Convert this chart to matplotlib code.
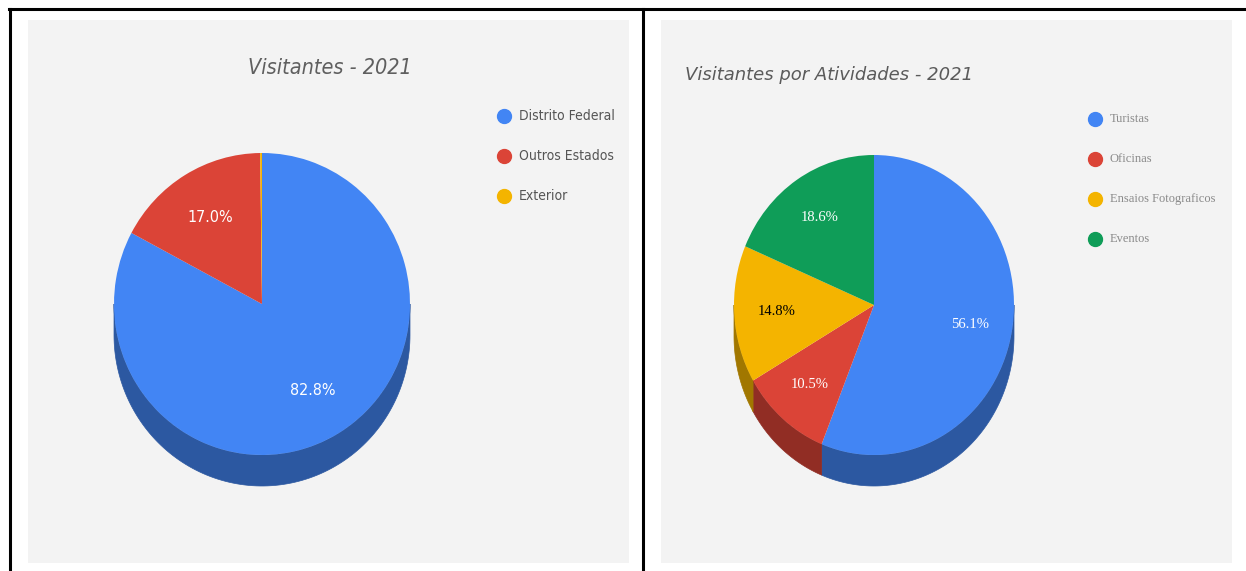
import numpy as np
import matplotlib
matplotlib.use("Agg")
import matplotlib.pyplot as plt
from matplotlib.colors import to_rgb
from matplotlib.patches import Polygon

# data
origem_labels = ["Distrito Federal", "Outros Estados", "Exterior"]
origem_values = [82.8, 17.0, 0.2]
origem_colors = ["#4285f4", "#db4437", "#f4b400"]

atividade_labels = ["Turistas", "Oficinas", "Ensaios Fotograficos", "Eventos"]
atividade_values = [56.1, 10.5, 14.8, 18.6]
atividade_colors = ["#4285f4", "#db4437", "#f4b400", "#0f9d58"]
atividade_text_colors = ["white", "white", "black", "white"]

W, H = 1246, 571
fig = plt.figure(figsize=(W / 100, H / 100), dpi=100)
fig.patch.set_facecolor("white")

NARROW = dict(fontfamily="DejaVu Sans", fontstretch="condensed")


def px_axes(x0, y0, x1, y1):
    # axes from pixel box (top-left origin)
    return fig.add_axes([x0 / W, 1 - y1 / H, (x1 - x0) / W, (y1 - y0) / H])


def darker(c, f=0.66):
    r, g, b = to_rgb(c)
    return (r * f, g * f, b * f)


def pie_3d(ax, values, colors, depth, pctdist, tprops, tcolors):
    wedges, texts, autotexts = ax.pie(
        values, colors=colors, startangle=90, counterclock=False,
        autopct=lambda p: f"{p:.1f}%" if p >= 1 else "",
        pctdistance=pctdist, wedgeprops=dict(linewidth=0))
    ax.set_aspect("auto")
    for w in wedges:
        w.set_zorder(3)
    # side of the pie (only the lower half is visible)
    for w, c in zip(wedges, colors):
        t1, t2 = sorted([w.theta1, w.theta2])
        for lo, hi in [(180, 360), (-180, 0)]:
            lo_, hi_ = max(t1, lo), min(t2, hi)
            if hi_ <= lo_:
                continue
            th = np.radians(np.linspace(lo_, hi_, 120))
            xs, ys = np.cos(th), np.sin(th)
            pts = np.concatenate([np.c_[xs, ys], np.c_[xs[::-1], ys[::-1] - depth]])
            ax.add_patch(Polygon(pts, closed=True, fc=darker(c), ec=darker(c),
                                 lw=0.5, zorder=2))
    for t, tc in zip(autotexts, tcolors):
        t.set_color(tc)
        t.set(**tprops)
        t.set_zorder(4)
    return wedges


def clean(ax):
    ax.set_frame_on(True)
    ax.set_axis_on()
    ax.set_xticks([])
    ax.set_yticks([])
    for s in ax.spines.values():
        s.set_visible(False)


# borders
fig.add_artist(plt.Line2D([9 / W, 1], [1 - 9 / H, 1 - 9 / H], color="black", lw=2.2,
                          transform=fig.transFigure))
fig.add_artist(plt.Line2D([10 / W, 10 / W], [0, 1 - 9 / H], color="black", lw=2.2,
                          transform=fig.transFigure))
fig.add_artist(plt.Line2D([643 / W, 643 / W], [0, 1 - 9 / H], color="black", lw=2.2,
                          transform=fig.transFigure))

# left chart
cx, cy, rx, ry = 262, 304, 148, 151
ax1 = px_axes(28, 20, 629, 563)
pie_3d(ax1, origem_values, origem_colors, 31 / ry, 0.67, dict(fontsize=11.5, **NARROW),
       ["white", "white", "white"])
ax1.set_xlim((28 - cx) / rx, (629 - cx) / rx)
ax1.set_ylim((cy - 563) / ry, (cy - 20) / ry)
clean(ax1)
ax1.set_facecolor("#f3f3f3")
ax1.text((330 - 28) / 601, 1 - (68 - 20) / 543, "Visitantes - 2021", transform=ax1.transAxes,
         ha="center", va="center", fontsize=15.5, fontstyle="italic", color="#5f5f5f",
         **NARROW)
for i, (lab, col) in enumerate(zip(origem_labels, origem_colors)):
    y = 116 + 40 * i
    ax1.plot([(504 - 28) / 601], [1 - (y - 20) / 543], "o", ms=10, color=col,
             transform=ax1.transAxes, clip_on=False)
    ax1.text((519 - 28) / 601, 1 - (y - 20) / 543, lab, transform=ax1.transAxes,
             ha="left", va="center", fontsize=10, color="#555555", **NARROW)

# right chart
cx, cy, rx, ry = 874, 305, 140, 150
ax2 = px_axes(661, 20, 1232, 563)
pie_3d(ax2, atividade_values, atividade_colors, 31 / ry, 0.7,
       dict(fontsize=10.5, fontfamily="Liberation Serif"), atividade_text_colors)
ax2.set_xlim((661 - cx) / rx, (1232 - cx) / rx)
ax2.set_ylim((cy - 563) / ry, (cy - 20) / ry)
clean(ax2)
ax2.set_facecolor("#f3f3f3")
ax2.text((685 - 661) / 571, 1 - (75 - 20) / 543, "Visitantes por Atividades - 2021",
         transform=ax2.transAxes, ha="left", va="center", fontsize=13, fontstyle="italic",
         fontfamily="DejaVu Sans", color="#5a5a5a")
for i, (lab, col) in enumerate(zip(atividade_labels, atividade_colors)):
    y = 119 + 40 * i
    ax2.plot([(1095 - 661) / 571], [1 - (y - 20) / 543], "o", ms=10, color=col,
             transform=ax2.transAxes, clip_on=False)
    ax2.text((1110 - 661) / 571, 1 - (y - 20) / 543, lab, transform=ax2.transAxes,
             ha="left", va="center", fontsize=9, fontfamily="Liberation Serif",
             color="#8a8a8a")

fig.savefig("out.png", dpi=100, facecolor="white")
